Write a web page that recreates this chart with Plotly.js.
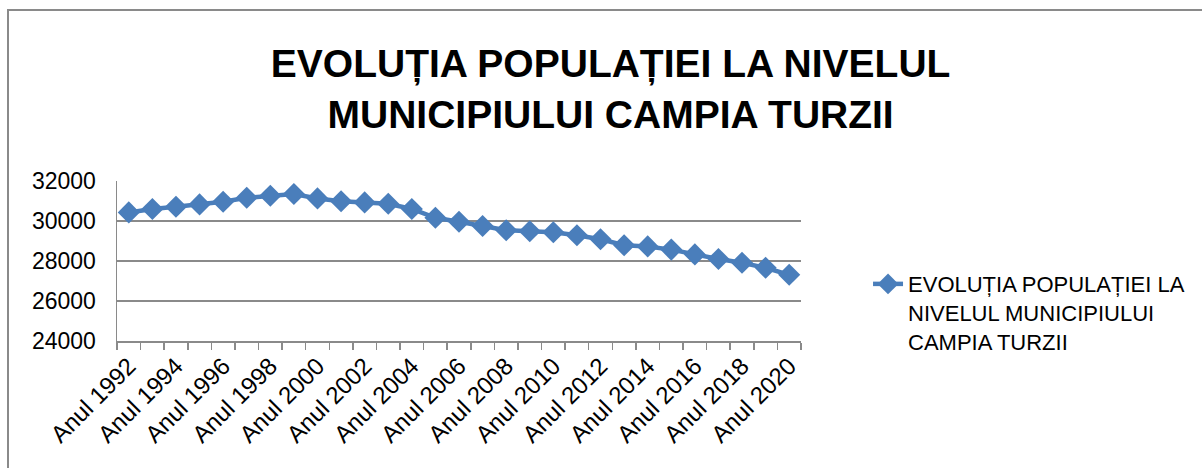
<!DOCTYPE html>
<html>
<head>
<meta charset="utf-8">
<script src="https://cdn.plot.ly/plotly-3.0.1.min.js"></script>
<style>
  html, body { margin: 0; padding: 0; background: #ffffff; }
  #wrap { position: relative; width: 1202px; height: 468px; overflow: hidden; }
  #chart { position: absolute; left: 0; top: 0; width: 1202px; height: 468px; }
  #frame { position: absolute; left: 7px; top: 9px; right: -10px; bottom: -10px;
           border-top: 2px solid #8a8a8a; border-left: 2px solid #8a8a8a; pointer-events: none; }
</style>
</head>
<body>
<div id="wrap">
  <div id="chart"></div>
  <div id="frame"></div>
</div>
<script>
// ---- data ----
const categories = [
  "Anul 1992", "Anul 1993", "Anul 1994", "Anul 1995", "Anul 1996", "Anul 1997",
  "Anul 1998", "Anul 1999", "Anul 2000", "Anul 2001", "Anul 2002", "Anul 2003",
  "Anul 2004", "Anul 2005", "Anul 2006", "Anul 2007", "Anul 2008", "Anul 2009",
  "Anul 2010", "Anul 2011", "Anul 2012", "Anul 2013", "Anul 2014", "Anul 2015",
  "Anul 2016", "Anul 2017", "Anul 2018", "Anul 2019", "Anul 2020"
];
const population = [
  30430, 30600, 30710, 30830, 30960, 31160,
  31260, 31350, 31130, 30990, 30930, 30860,
  30600, 30160, 29960, 29750, 29540, 29490,
  29440, 29290, 29090, 28790, 28730, 28570,
  28330, 28100, 27910, 27660, 27310
];
const tickLabels = [
  "Anul 1992", "", "Anul 1994", "", "Anul 1996", "", "Anul 1998", "",
  "Anul 2000", "", "Anul 2002", "", "Anul 2004", "", "Anul 2006", "",
  "Anul 2008", "", "Anul 2010", "", "Anul 2012", "", "Anul 2014", "",
  "Anul 2016", "", "Anul 2018", "", "Anul 2020"
];
const seriesName = "EVOLUȚIA POPULAȚIEI LA<br>NIVELUL MUNICIPIULUI<br>CAMPIA TURZII";
const chartTitle = "EVOLUȚIA POPULAȚIEI LA NIVELUL<br>MUNICIPIULUI CAMPIA TURZII";
const yTicks = [24000, 26000, 28000, 30000, 32000];

const blue = "#4a7ebb";
const gray = "#8a8a8a";
const font = "Liberation Sans, Arial, sans-serif";

const trace = {
  type: "scatter",
  mode: "lines+markers",
  x: categories,
  y: population,
  name: seriesName,
  line: { color: blue, width: 4.5 },
  marker: { symbol: "diamond", size: 17, color: blue },
  showlegend: true
};

const layout = {
  width: 1202,
  height: 468,
  paper_bgcolor: "#ffffff",
  plot_bgcolor: "#ffffff",
  margin: { l: 117, r: 401, t: 181, b: 127, pad: 0 },
  font: { family: font, color: "#000000" },
  title: {
    text: chartTitle,
    font: { family: font, size: 39, color: "#000000", weight: "bold" },
    x: 0.508, xanchor: "center", xref: "container",
    y: 1 - 77 / 468, yanchor: "top", yref: "container"
  },
  xaxis: {
    type: "category",
    categoryorder: "array",
    categoryarray: categories,
    range: [-0.5, categories.length - 0.5],
    autorange: false,
    tickmode: "array",
    tickvals: categories,
    ticktext: tickLabels,
    tickson: "boundaries",
    ticks: "outside",
    ticklen: 7,
    tickwidth: 1.5,
    tickcolor: gray,
    tickangle: -45,
    tickfont: { family: font, size: 24, color: "#000000" },
    showline: true,
    linecolor: gray,
    linewidth: 1.5,
    showgrid: false,
    zeroline: false,
    fixedrange: true
  },
  yaxis: {
    range: [24000, 32000],
    autorange: false,
    tickmode: "array",
    tickvals: yTicks,
    tickformat: "d",
    ticks: "",
    ticklabelstandoff: 15,
    tickfont: { family: font, size: 23, color: "#000000" },
    showline: true,
    linecolor: gray,
    linewidth: 1.5,
    showgrid: true,
    gridcolor: gray,
    gridwidth: 1.5,
    zeroline: false,
    fixedrange: true
  },
  legend: {
    x: 1.098, xanchor: "left", xref: "paper",
    y: 0.487, yanchor: "top", yref: "paper",
    valign: "top",
    font: { family: font, size: 22, color: "#000000" },
    bgcolor: "rgba(0,0,0,0)",
    borderwidth: 0
  },
  showlegend: true
};

Plotly.newPlot("chart", [trace], layout, { displayModeBar: false, staticPlot: true });
</script>
</body>
</html>
